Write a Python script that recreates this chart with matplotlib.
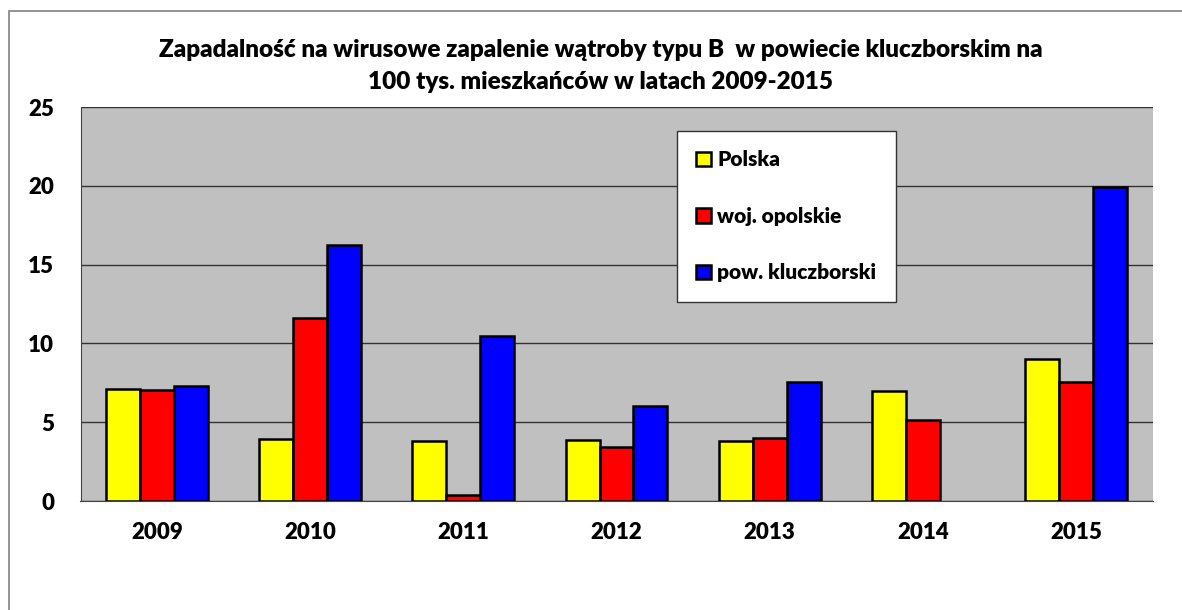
import numpy as np
import matplotlib
matplotlib.use('Agg')
from matplotlib import pyplot as plt
from matplotlib.patches import Rectangle

years = ['2009', '2010', '2011', '2012', '2013', '2014', '2015']
polska = [7.1, 3.95, 3.8, 3.9, 3.8, 7.0, 9.0]
opolskie = [7.05, 11.6, 0.4, 3.45, 4.0, 5.15, 7.55]
kluczborski = [7.3, 16.25, 10.45, 6.05, 7.55, np.nan, 19.95]
series_names = ['Polska', 'woj. opolskie', 'pow. kluczborski']
colors = ['#ffff00', '#ff0000', '#0000ff']

plt.rcParams['font.family'] = ['Lato', 'DejaVu Sans']
WEIGHT = 'heavy'

W, H = 1182, 610
fig = plt.figure(figsize=(W / 100, H / 100), dpi=100)
ax = fig.add_axes([80.5 / W, 1 - 501 / H, (1152.5 - 80.5) / W, (501 - 107) / H])

# outer chart frame (runs off the right/bottom edge)
fig.patches.append(Rectangle((8.5 / W, -0.1), 1.2, 1 - 11 / H + 0.1,
                             transform=fig.transFigure, fill=False,
                             edgecolor='#808080', linewidth=1.2))

x = np.arange(len(years))
bw = 0.222
for i, (vals, name, c) in enumerate(zip([polska, opolskie, kluczborski], series_names, colors)):
    ax.bar(x + (i - 1) * bw, vals, bw, color=c, edgecolor='black',
           linewidth=1.8, label=name, zorder=3)

ax.set_facecolor('#c0c0c0')
ax.set_xlim(-0.5, len(years) - 0.5)
ax.set_ylim(0, 25)
ax.set_yticks(range(0, 26, 5))
ax.yaxis.grid(True, color='#333333', linewidth=1.0, zorder=0)
ax.set_axisbelow(True)
ax.set_xticks(x)
ax.set_xticklabels(years)
ax.tick_params(axis='both', length=0, labelsize=16)
ax.tick_params(axis='x', pad=15)
ax.tick_params(axis='y', pad=19)
for lab in ax.get_xticklabels() + ax.get_yticklabels():
    lab.set_fontweight(WEIGHT)
for s in ['top', 'right']:
    ax.spines[s].set_visible(False)
ax.spines['left'].set_color('#444444')
ax.spines['bottom'].set_color('#444444')

fig.text(0.508, 1 - 50 / H, 'Zapadalność na wirusowe zapalenie wątroby typu B  w powiecie kluczborskim na',
         ha='center', va='center', fontsize=17.5, fontweight=WEIGHT)
fig.text(0.508, 1 - 82 / H, '100 tys. mieszkańców w latach 2009-2015',
         ha='center', va='center', fontsize=17.5, fontweight=WEIGHT)

leg = ax.legend(loc='upper left', bbox_to_anchor=((676.7 - 80.5) / (1152.5 - 80.5), 1 - (130.7 - 107) / 394),
                frameon=True, fancybox=False, edgecolor='#333333', facecolor='white',
                framealpha=1, prop={'size': 15, 'weight': WEIGHT},
                handlelength=0.7, handleheight=0.7,
                handletextpad=0.3, labelspacing=1.8, borderpad=0.95, borderaxespad=0)
leg.get_frame().set_linewidth(1.0)
for p in leg.get_patches():
    p.set_linewidth(1.8)

fig.savefig('out.png', dpi=100)
